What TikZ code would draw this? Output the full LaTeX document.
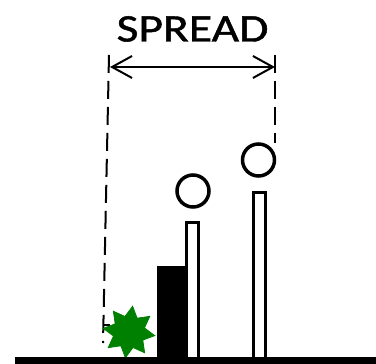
\documentclass[tikz,border=0pt]{standalone}
\usepackage{fontspec}
\newfontfamily\labelfont[FakeStretch=1.22, FakeBold=1.2]{Carlito}
\usepackage{tikz}
\usetikzlibrary{arrows.meta}

\begin{document}
\begin{tikzpicture}[
    x=1pt, y=1pt,
    pole/.style={draw=black, fill=white, line width=3.5pt},
    block/.style={fill=black, draw=none},
    head/.style={circle, draw=black, fill=white, line width=3.5pt, minimum size=32pt, inner sep=0pt},
    guide/.style={draw=black, line width=2pt, dash pattern=on 18pt off 8pt},
    arrow/.style={{Straight Barb[length=20pt, width=22pt, line width=2pt]}-{Straight Barb[length=20pt, width=22pt, line width=2pt]}, line width=2pt, draw=black},
    bush/.style={fill=green!50!black, draw=green!50!black, line width=0.8pt, line join=miter}
]
    \useasboundingbox (0,0) rectangle (376,364);

    % Title
    \node[font=\labelfont\fontsize{39}{40}\selectfont, anchor=base, inner sep=0pt] (title) at (192.5,322.5) {SPREAD};

    % Guide lines
    \coordinate (leftTop) at (109,309);
    \coordinate (leftBot) at (103,21);
    \coordinate (rightTop) at (275,309);
    \coordinate (rightBot) at (275,221);
    \draw[guide] (leftTop) -- (leftBot);
    \draw[line width=2pt] (103,39) -- (110,39);
    \draw[guide] (rightTop) -- (rightBot);

    % Spread arrow
    \coordinate (spreadL) at (110,297);
    \coordinate (spreadR) at (275,297);
    \draw[arrow] (spreadL) -- (spreadR);

    % Plants
    \fill[block] (157,5) rectangle (187,98);
    \draw[pole] (186.5,5) rectangle (198.5,141.5);
    \draw[pole] (253.5,5) rectangle (265.5,171.5);
    \node[head] (seedA) at (193,173) {};
    \node[head] (seedB) at (258.5,204) {};

    % Weed
    \coordinate (weed) at (129,32);
    \fill[bush, shift={(weed)}] (82:26)
        \foreach \k in {1,...,15} { -- ({82+22.5*\k}:{ifthenelse(mod(\k,2)==1,16,26)}) } -- cycle;

    % Ground
    \fill[black] (15,0) rectangle (376,7);
\end{tikzpicture}
\end{document}
